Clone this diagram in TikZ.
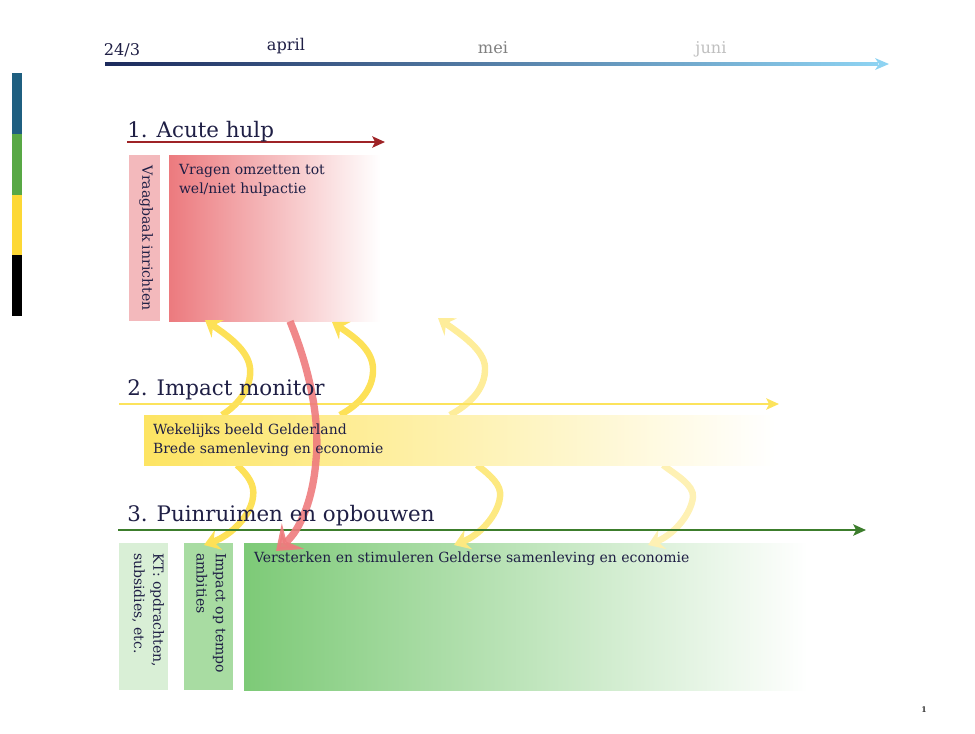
\documentclass[tikz,border=0pt]{standalone}
\usepackage{fontspec}
\setmainfont{DejaVu Serif}
\usetikzlibrary{arrows.meta,positioning,fit,calc}
\definecolor{navy}{HTML}{1C2A5C}
\definecolor{skyline}{HTML}{8ED3F2}
\definecolor{inkblue}{HTML}{1F1F45}
\definecolor{acutered}{HTML}{9E2326}
\definecolor{pinkbox}{HTML}{F3B9BC}
\definecolor{redstart}{HTML}{EC7A7E}
\definecolor{redcurve}{HTML}{EE7B7D}
\definecolor{monyellow}{HTML}{FCE35C}
\definecolor{boxyellow}{HTML}{FDE462}
\definecolor{curveyellow}{HTML}{FDE157}
\definecolor{puingreen}{HTML}{3C7D2C}
\definecolor{greenstart}{HTML}{7DCA77}
\definecolor{palegreen}{HTML}{D9EFD6}
\definecolor{midgreen}{HTML}{A8DCA2}
\definecolor{barblue}{HTML}{1F5F80}
\definecolor{bargreen}{HTML}{58A845}
\definecolor{baryellow}{HTML}{FDD835}
\tikzset{
    %Define style for section titles
    titel/.style={
           anchor=base west,
           inner sep=0pt,
           text=inkblue,
           font=\fontsize{15.2}{18}\selectfont},
    % Define style for text in the boxes
    tekst/.style={
           anchor=north west,
           inner sep=0pt,
           align=left,
           text=inkblue,
           font=\fontsize{9.95}{13.6}\selectfont},
    % Define style for month labels
    maand/.style={
           anchor=base,
           inner sep=0pt,
           font=\fontsize{11.5}{14}\selectfont},
    % Define style for boxes
    blok/.style={
           rectangle,
           inner sep=0pt,
           draw=none},
    % Define arrow styles
    lijn/.style={
           -{Stealth[length=9pt,width=8pt,inset=2pt]},
           line width=1.6pt},
    kromme/.style={
           -{Stealth[length=11pt,width=15pt,inset=4pt]},
           line width=4.6pt}
}
\newcommand*{\bnode}[4]{\node[blok, #4, fit={#2 #3}] (#1) {};}

\begin{document}
\begin{tikzpicture}[x=0.025cm,y=-0.025cm]
\useasboundingbox (0,0) rectangle (975,733);

% Coloured bar on the left
\fill[barblue] (12,73) rectangle (22,134);
\fill[bargreen] (12,134) rectangle (22,195);
\fill[baryellow] (12,195) rectangle (22,255);
\fill[black] (12,255) rectangle (22,316);

% Time line with the months
\coordinate (t0) at (105,64);
\coordinate (t1) at (889,64);
\shade[left color=navy, right color=skyline] ($(t0)+(0,-1.6)$) rectangle ($(t1)+(-11,1.6)$);
\fill[skyline] ($(t1)+(-14,-6)$) -- (t1) -- ($(t1)+(-14,6)$) -- ($(t1)+(-10,0)$) -- cycle;
\node[maand, text=inkblue] (start) at (122,55) {24/3};
\node[maand, text=inkblue] (april) at (286,50) {april};
\node[maand, text=black!50] (mei) at (493,53) {mei};
\node[maand, text=black!25] (juni) at (711,53) {juni};

% Boxes of the three sections
\bnode{vraag}{(129,155)}{(160,321)}{fill=pinkbox}
\bnode{vragen}{(169,155)}{(380,321)}{left color=redstart, middle color=redstart!62!white, right color=white}
\bnode{kt}{(119,543)}{(168,690)}{fill=palegreen}
\bnode{tempo}{(184,543)}{(233,690)}{fill=midgreen}
\bnode{versterken}{(244,543)}{(808,690)}{left color=greenstart, middle color=greenstart!72!white, right color=white}

% Curved arrows between the sections
\draw[kromme, curveyellow] (222,415) .. controls (238,405) and (252,388) .. (250,368)
      .. controls (248,350) and (228,336) .. (205,320);
\draw[kromme, curveyellow] (340,415) .. controls (358,405) and (374,390) .. (373,368)
      .. controls (372,350) and (356,338) .. (332,322);
\draw[kromme, curveyellow!60!white] (450,415) .. controls (468,405) and (486,390) .. (485,367)
      .. controls (484,350) and (462,335) .. (438,318);
\draw[kromme, curveyellow] (237,465) .. controls (248,475) and (255,485) .. (253,497)
      .. controls (251,515) and (232,535) .. (204,545);
\draw[kromme, curveyellow!75!white] (477,465) .. controls (490,475) and (502,485) .. (500,497)
      .. controls (498,515) and (480,535) .. (454,545);
\draw[kromme, curveyellow!45!white] (663,465) .. controls (676,475) and (694,485) .. (693,497)
      .. controls (691,515) and (673,535) .. (648,545);

\bnode{monitor}{(144,415)}{(775,465)}{left color=boxyellow, middle color=boxyellow!82!white, right color=white}

% Arrows under the titles
\coordinate (a0) at (127,142);
\coordinate (a1) at (385,142);
\coordinate (m0) at (119,404);
\coordinate (m1) at (779,404);
\coordinate (p0) at (118,530);
\coordinate (p1) at (866,530);
\draw[lijn, acutered] (a0) -- (a1);
\draw[lijn, monyellow] (m0) -- (m1);
\draw[lijn, puingreen] (p0) -- (p1);

% Red arrow from acute help down to section 3
\draw[-{Stealth[length=16pt,width=24pt,inset=6pt]}, line width=5.2pt, redcurve, opacity=0.9]
      (vragen.south west -| 290,0) .. controls (310,370) and (320,420) .. (316,460)
      .. controls (313,500) and (300,530) .. (276,551);

% Titles and texts
\node[titel] (acuut) at (127,137) {1. Acute hulp};
\node[titel] (impact) at (127,395) {2. Impact monitor};
\node[titel] (puin) at (127,521) {3. Puinruimen en opbouwen};
\node[tekst] (vragentxt) at ([shift={(10,9)}]vragen.north west) {Vragen omzetten tot\\wel/niet hulpactie};
\node[tekst] (monitortxt) at ([shift={(9,9)}]monitor.north west) {Wekelijks beeld Gelderland\\Brede samenleving en economie};
\node[tekst] (versterkentxt) at ([shift={(10,9)}]versterken.north west) {Versterken en stimuleren Gelderse samenleving en economie};
\node[tekst, rotate=-90] (vraagtxt) at ([shift={(-7,10)}]vraag.north east) {Vraagbaak inrichten};
\node[tekst, rotate=-90] (kttxt) at ([shift={(-4,10)}]kt.north east) {KT: opdrachten,\\subsidies, etc.};
\node[tekst, rotate=-90] (tempotxt) at ([shift={(-7,10)}]tempo.north east) {Impact op tempo\\ambities};

% Page number
\node[inner sep=0pt, font=\bfseries\fontsize{5.5}{6}\selectfont, text=black!80] (pagina) at (924,710) {1};
\end{tikzpicture}
\end{document}
